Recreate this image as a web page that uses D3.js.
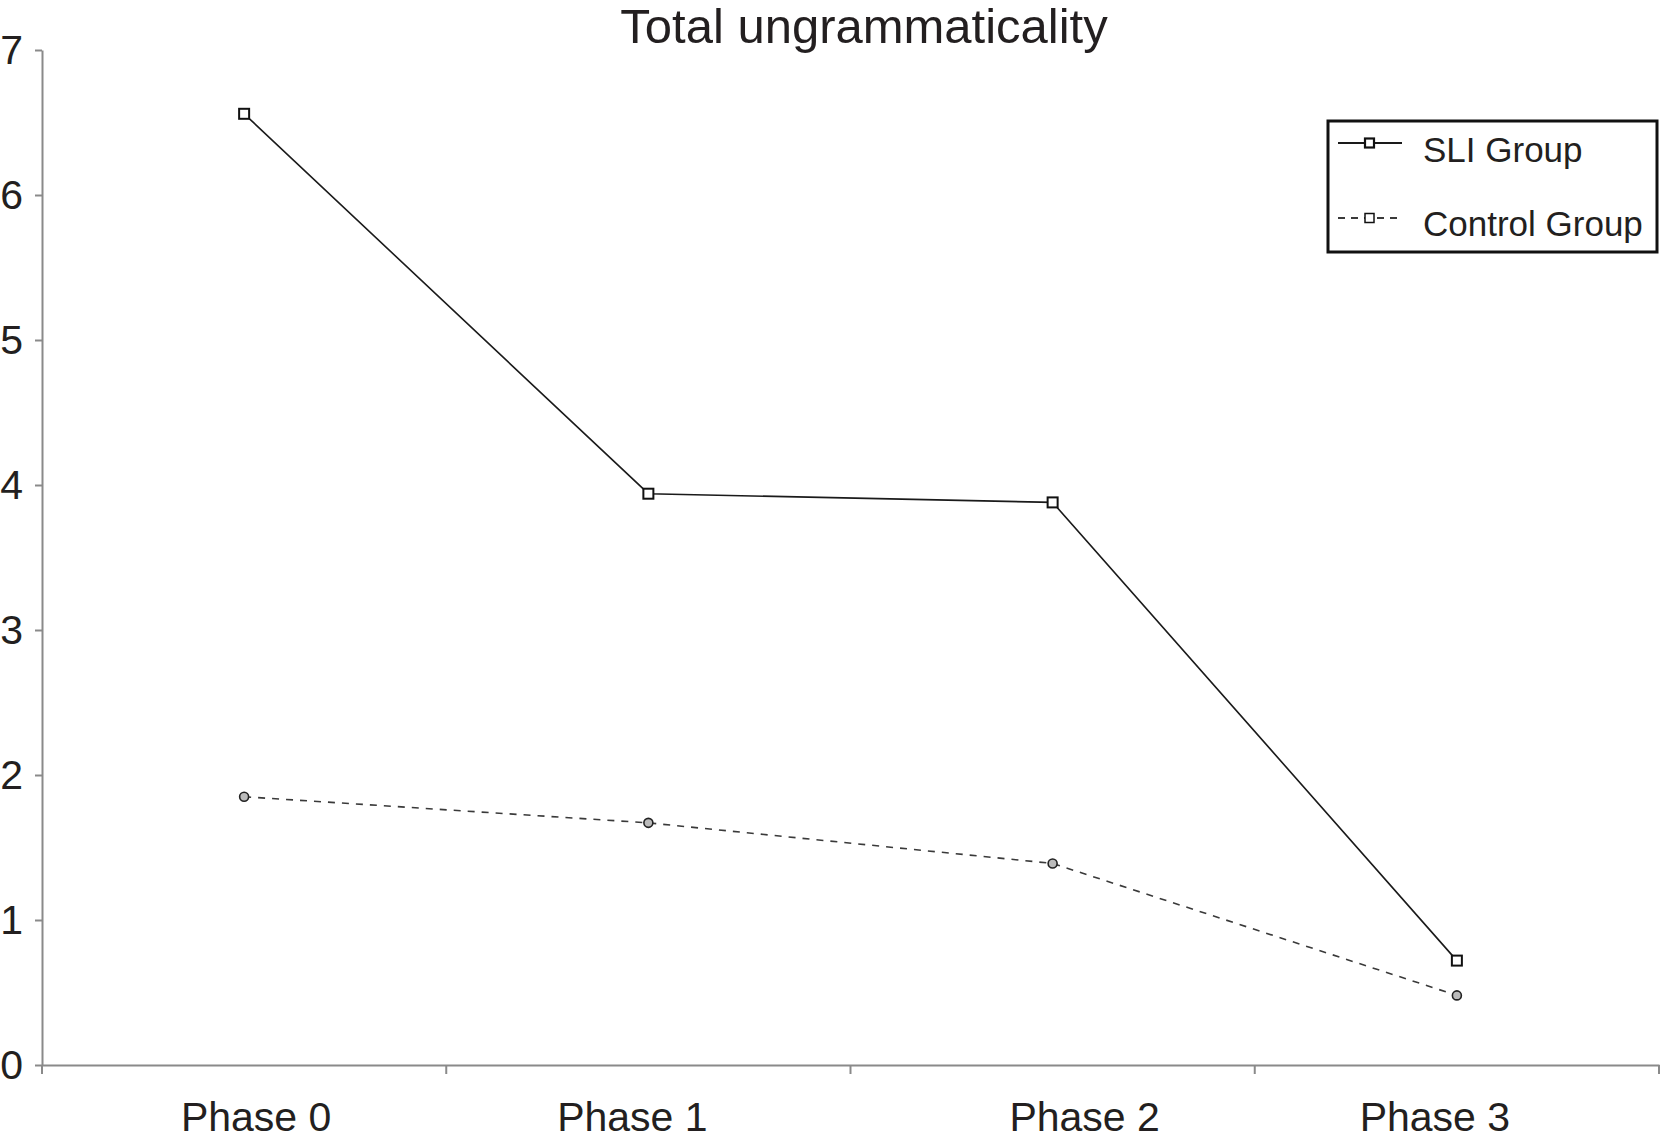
<!DOCTYPE html>
<html>
<head>
<meta charset="utf-8">
<script src="https://cdn.jsdelivr.net/npm/d3@7"></script>
<style>
  html, body { margin: 0; padding: 0; background: #fff; }
  svg { display: block; font-family: "Liberation Sans", Arial, sans-serif; }
</style>
</head>
<body>
<svg id="chart" width="1660" height="1140"></svg>
<script>
const title = "Total ungrammaticality";
const phases = ["Phase 0", "Phase 1", "Phase 2", "Phase 3"];
const sliValues = [6.56, 3.94, 3.88, 0.72];
const controlValues = [1.85, 1.67, 1.39, 0.48];
const yTicks = [0, 1, 2, 3, 4, 5, 6, 7];
const seriesNames = ["SLI Group", "Control Group"];

// layout: small horizontal nudges of the category labels as placed in the original
const labelNudge = [12, -16, 32, -22];

const svg = d3.select("#chart");
const margin = { left: 42, right: 1, top: 50, bottom: 75 };
const W = 1660, H = 1140;
const x = d3.scaleBand().domain(phases).range([margin.left, W - margin.right]).padding(0);
const y = d3.scaleLinear().domain([0, 7]).range([H - margin.bottom, margin.top]);
const axisColor = "#8a8a8a";
const textColor = "#231f20";

// Y axis
const yAxis = svg.append("g")
  .attr("transform", `translate(${margin.left},0)`)
  .call(d3.axisLeft(y).tickValues(yTicks).tickSize(7).tickSizeOuter(0).tickPadding(12).tickFormat(d3.format("d")));
yAxis.select(".domain").attr("stroke", axisColor).attr("stroke-width", 2);
yAxis.selectAll(".tick line").attr("stroke", axisColor).attr("stroke-width", 2);
yAxis.selectAll(".tick text").attr("font-size", 41).attr("fill", textColor)
  .attr("font-family", "Liberation Sans, Arial, sans-serif");

// X axis (labels at band centers, ticks at band edges)
const xAxis = svg.append("g")
  .attr("transform", `translate(0,${y(0)})`)
  .call(d3.axisBottom(x).tickSize(0).tickSizeOuter(0).tickPadding(37));
xAxis.select(".domain").attr("stroke", axisColor).attr("stroke-width", 2);
xAxis.selectAll(".tick text").attr("font-size", 41).attr("fill", textColor)
  .attr("font-family", "Liberation Sans, Arial, sans-serif")
  .attr("dx", (d, i) => labelNudge[i]);
const edges = phases.map(p => x(p)).concat([x(phases[phases.length - 1]) + x.bandwidth()]);
xAxis.selectAll(".edge").data(edges).enter().append("line")
  .attr("x1", d => d).attr("x2", d => d).attr("y1", 0).attr("y2", 9)
  .attr("stroke", axisColor).attr("stroke-width", 2);

const cx = p => x(p) + x.bandwidth() / 2;
const line = d3.line().x((d, i) => cx(phases[i])).y(d => y(d));

// Control line
svg.append("path").datum(controlValues)
  .attr("d", line).attr("fill", "none")
  .attr("stroke", "#3a3a3a").attr("stroke-width", 1.6).attr("stroke-dasharray", "7,7");
svg.selectAll(".cpt").data(controlValues).enter().append("circle")
  .attr("cx", (d, i) => cx(phases[i])).attr("cy", d => y(d)).attr("r", 4.5)
  .attr("fill", "#bbb").attr("stroke", "#222").attr("stroke-width", 1.6);

// SLI line
svg.append("path").datum(sliValues)
  .attr("d", line).attr("fill", "none")
  .attr("stroke", "#1a1a1a").attr("stroke-width", 1.6);
svg.selectAll(".spt").data(sliValues).enter().append("rect")
  .attr("x", (d, i) => cx(phases[i]) - 5).attr("y", d => y(d) - 5)
  .attr("width", 10).attr("height", 10)
  .attr("fill", "#fff").attr("stroke", "#111").attr("stroke-width", 2);

// Title
svg.append("text").attr("x", 864).attr("y", 43).attr("text-anchor", "middle")
  .attr("font-size", 49).attr("fill", textColor).text(title);

// Legend
const lg = svg.append("g").attr("transform", "translate(1328,121)");
lg.append("rect").attr("x", 0).attr("y", 0).attr("width", 329).attr("height", 131)
  .attr("fill", "#fff").attr("stroke", "#111").attr("stroke-width", 3);
const legendRows = [
  { name: seriesNames[0], dash: null, y: 22, ty: 41, stroke: "#1a1a1a" },
  { name: seriesNames[1], dash: "7,6", y: 97, ty: 115, stroke: "#3a3a3a" }
];
legendRows.forEach(r => {
  lg.append("line").attr("x1", 10).attr("x2", 74).attr("y1", r.y).attr("y2", r.y)
    .attr("stroke", r.stroke).attr("stroke-width", 1.8).attr("stroke-dasharray", r.dash);
  lg.append("rect").attr("x", 37).attr("y", r.y - 4.5).attr("width", 9).attr("height", 9)
    .attr("fill", "#fff").attr("stroke", "#111").attr("stroke-width", r.dash ? 1.5 : 2.2);
  lg.append("text").attr("x", 95).attr("y", r.ty).attr("font-size", 35)
    .attr("fill", textColor).text(r.name);
});
</script>
</body>
</html>
